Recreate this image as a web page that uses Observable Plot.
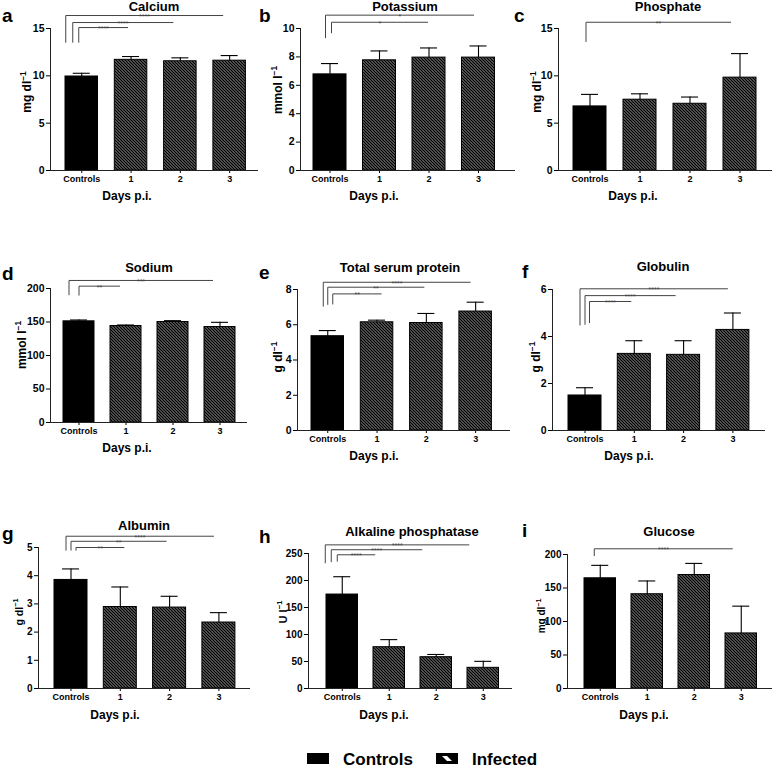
<!DOCTYPE html>
<html>
<head>
<meta charset="utf-8">
<script src="https://cdn.jsdelivr.net/npm/d3@7"></script>
<script src="https://cdn.jsdelivr.net/npm/@observablehq/plot@0.6"></script>
<style>
html,body{margin:0;padding:0;background:#fff;}
#fig{position:relative;width:773px;height:769px;overflow:hidden;font-family:"Liberation Sans",Arial,Helvetica,sans-serif;}
#fig svg.panel{position:absolute;}
#fig g[aria-label^="x-axis"] text{font-size:9px;font-weight:bold;fill:#000;}
#fig g[aria-label^="y-axis"] text{font-weight:bold;fill:#000;}
</style>
</head>
<body>
<svg width="0" height="0" style="position:absolute">
  <defs>
    <pattern id="hatch" patternUnits="userSpaceOnUse" width="3" height="3">
      <rect width="3" height="3" fill="#fff"/>
      <path d="M-1,-1L4,4M2,-1L4,1M-1,2L1,4" stroke="#000" stroke-width="1.6"/>
    </pattern>
  </defs>
</svg>
<div id="fig"></div>
<script>
// ---------- data ----------
const groups = ["Controls", "1", "2", "3"];
const legendLabels = ["Controls", "Infected"];
const xAxisTitle = "Days p.i.";

const calcium = [9.93, 11.69, 11.54, 11.6];
const calciumSD = [0.34, 0.35, 0.36, 0.54];
const calciumSig = [["3", "****", 16.37, 13.5], ["2", "****", 15.63, 13.5], ["1", "****", 15.1, 13.5]];
const calciumTicks = [0, 5, 10, 15];

const potassium = [6.77, 7.76, 7.95, 7.95];
const potassiumSD = [0.76, 0.66, 0.68, 0.82];
const potassiumSig = [["3", "*", 10.94, 9.32], ["2", "*", 10.44, 9.67]];
const potassiumTicks = [0, 2, 4, 6, 8, 10];

const phosphate = [6.77, 7.48, 7.05, 9.81];
const phosphateSD = [1.27, 0.62, 0.71, 2.54];
const phosphateSig = [["3", "**", 15.66, 13.58]];
const phosphateTicks = [0, 5, 10, 15];

const sodium = [151, 144, 150, 142.5];
const sodiumSD = [2, 1.5, 2, 7];
const sodiumSig = [["3", "***", 212, 190], ["1", "**", 203.5, 189.5]];
const sodiumTicks = [0, 50, 100, 150, 200];

const protein = [5.35, 6.14, 6.1, 6.75];
const proteinSD = [0.32, 0.12, 0.54, 0.53];
const proteinSig = [["3", "****", 8.41, 7.03], ["2", "**", 8.13, 7.13], ["1", "**", 7.75, 7.15]];
const proteinTicks = [0, 2, 4, 6, 8];

const globulin = [1.49, 3.26, 3.22, 4.28];
const globulinSD = [0.33, 0.56, 0.6, 0.72];
const globulinSig = [["3", "****", 6.03, 4.47], ["2", "****", 5.74, 4.5], ["1", "****", 5.49, 4.57]];
const globulinTicks = [0, 2, 4, 6];

const albumin = [3.85, 2.89, 2.87, 2.34];
const albuminSD = [0.39, 0.71, 0.4, 0.35];
const albuminSig = [["3", "****", 5.4, 4.89], ["2", "**", 5.22, 4.89], ["1", "**", 5.0, 4.89]];
const albuminTicks = [0, 1, 2, 3, 4, 5];

const alp = [174, 76.5, 58, 38.3];
const alpSD = [33, 14, 5, 12];
const alpSig = [["3", "****", 266, 232], ["2", "****", 257, 234], ["1", "****", 247.6, 235]];
const alpTicks = [0, 50, 100, 150, 200, 250];

const glucose = [164.5, 140.7, 169.4, 82.2];
const glucoseSD = [19.3, 19.8, 17.3, 40.7];
const glucoseSig = [["3", "****", 208.5, 197.6]];
const glucoseTicks = [0, 50, 100, 150, 200];

const panels = [
  {id: "a", title: "Calcium", unit: ["mg dl", "−1"], values: calcium, sd: calciumSD, sig: calciumSig, ticks: calciumTicks},
  {id: "b", title: "Potassium", unit: ["mmol l", "−1"], values: potassium, sd: potassiumSD, sig: potassiumSig, ticks: potassiumTicks},
  {id: "c", title: "Phosphate", unit: ["mg dl", "−1"], values: phosphate, sd: phosphateSD, sig: phosphateSig, ticks: phosphateTicks},
  {id: "d", title: "Sodium", unit: ["mmol l", "−1"], values: sodium, sd: sodiumSD, sig: sodiumSig, ticks: sodiumTicks},
  {id: "e", title: "Total serum protein", unit: ["g dl", "−1"], values: protein, sd: proteinSD, sig: proteinSig, ticks: proteinTicks},
  {id: "f", title: "Globulin", unit: ["g dl", "−1"], values: globulin, sd: globulinSD, sig: globulinSig, ticks: globulinTicks},
  {id: "g", title: "Albumin", unit: ["g dl", "−1"], values: albumin, sd: albuminSD, sig: albuminSig, ticks: albuminTicks},
  {id: "h", title: "Alkaline phosphatase", unit: ["U l", "−1"], values: alp, sd: alpSD, sig: alpSig, ticks: alpTicks},
  {id: "i", title: "Glucose", unit: ["mg dl", "−1"], values: glucose, sd: glucoseSD, sig: glucoseSig, ticks: glucoseTicks}
];

// ---------- layout (pixels, styling only) ----------
const geom = {
  a: {ax:50, end:258, top:28, zero:170, off:15, step:49.3, bw:32.5, bl:[-16,-9,-3], br:[-6.5,-7,-3], fs:10.5, lx:2, ly:22, tx:154, ty:11, ux:27, uy:92, us:12, dxl:127, dyl:200},
  b: {ax:300, end:515, top:28, zero:170, off:13, step:49.5, bw:33, bl:[-4.5,1.5], br:[-4.5,-1], fs:10.5, lx:259, ly:22, tx:405, ty:11, ux:278, uy:90, us:12, dxl:374, dyl:200},
  c: {ax:558, end:772, top:28, zero:170, off:15, step:50, bw:33, bl:[-4], br:[-9], fs:10.5, lx:514, ly:22, tx:668, ty:11, ux:537, uy:92, us:12, dxl:633, dyl:200},
  d: {ax:50, end:247, top:288, zero:422, off:13, step:47, bw:31, bl:[-10,0], br:[-7,-6], fs:10.5, lx:2, ly:280, tx:149, ty:272, ux:22, uy:345, us:12, dxl:127, dyl:452},
  e: {ax:297, end:510, top:289, zero:430, off:14, step:49.3, bw:32.5, bl:[-4.5,0,5], br:[-5,-2,4.5], fs:10.5, lx:259, ly:279, tx:400, ty:272, ux:278, uy:357, us:12, dxl:374, dyl:460},
  f: {ax:552, end:765, top:289, zero:430, off:16, step:49.3, bw:33, bl:[-5,0,4.5], br:[-5,-8,-3], fs:10.5, lx:522, ly:278, tx:663, ty:271, ux:536, uy:357, us:12, dxl:629, dyl:460},
  g: {ax:38, end:250, top:547, zero:688, off:16, step:49.3, bw:33, bl:[-5,0,5], br:[-5,-3,4], fs:10, lx:2, ly:540, tx:144, ty:530, ux:19, uy:612, us:10.5, dxl:115, dyl:719},
  h: {ax:308, end:512, top:553, zero:688, off:18, step:47, bw:31.5, bl:[-17,-11,-5], br:[-14,-14,-14], fs:10, lx:259, ly:543, tx:412, ty:536, ux:283, uy:612, us:11, dxl:384, dyl:719},
  i: {ax:567, end:772, top:554, zero:688, off:17, step:47, bw:31.5, bl:[-6], br:[-8.5], fs:10, lx:522, ly:537, tx:669, ty:536, ux:541, uy:616, us:10, dxl:644, dyl:719}
};

const FONT = '"Liberation Sans", Arial, Helvetica, sans-serif';
const fig = document.getElementById("fig");

panels.forEach(p => {
  const g = geom[p.id];
  const ML = 46, MR = 6, MT = 26, MB = 24;
  const plotW = g.end - g.ax, plotH = g.zero - g.top;
  const c0 = g.off + g.bw / 2;
  const xd = [-c0 / g.step, (plotW - c0) / g.step];
  const hw = g.bw / 2 / g.step, cw = 8.5 / g.step;
  const yMax = p.ticks[p.ticks.length - 1];
  const rows = groups.map((k, i) => ({i, k, mean: p.values[i], top: p.values[i] + p.sd[i]}));
  const sig = p.sig.map(([to, stars, y, y0], j) => {
    const xl = g.bl[j] / g.step, xr = groups.indexOf(to) + g.br[j] / g.step;
    return {xl, xr, xm: (xl + xr) / 2, y, y0, stars};
  });
  const svg = Plot.plot({
    width: ML + plotW + MR, height: MT + plotH + MB,
    marginLeft: ML, marginRight: MR, marginTop: MT, marginBottom: MB,
    style: {background: "transparent", overflow: "visible", fontFamily: FONT, fontSize: g.fs + "px", color: "#000"},
    x: {domain: xd, ticks: [0, 1, 2, 3], tickFormat: i => groups[i], tickSize: 3, tickPadding: 2, label: null},
    y: {domain: [0, yMax], ticks: p.ticks, tickFormat: d => String(d), tickSize: 4, tickPadding: 2, label: null},
    marks: [
      Plot.rect(rows.filter(d => d.i === 0), {x1: d => d.i - hw, x2: d => d.i + hw, y1: 0, y2: "mean", fill: "#000", stroke: "#000"}),
      Plot.rect(rows.filter(d => d.i > 0), {x1: d => d.i - hw, x2: d => d.i + hw, y1: 0, y2: "mean", fill: "url(#hatch)", stroke: "#000", strokeWidth: 1}),
      Plot.ruleX(rows, {x: "i", y1: "mean", y2: "top", stroke: "#000", strokeWidth: 1.1}),
      Plot.ruleY(rows, {x1: d => d.i - cw, x2: d => d.i + cw, y: "top", stroke: "#000", strokeWidth: 1.1}),
      Plot.ruleY([0], {stroke: "#222"}),
      Plot.ruleX([xd[0]], {y1: 0, y2: yMax, stroke: "#222"}),
      Plot.link(sig, {x1: "xl", x2: "xr", y1: "y", y2: "y", stroke: "#444", strokeWidth: 1}),
      Plot.link(sig, {x1: "xl", x2: "xl", y1: "y", y2: "y0", stroke: "#444", strokeWidth: 1}),
      Plot.text(sig, {x: "xm", y: "y", text: "stars", fontSize: 7, fill: "#444", lineAnchor: "bottom", dy: 3.5})
    ]
  });
  svg.classList.add("panel");
  svg.style.left = (g.ax - ML) + "px";
  svg.style.top = (g.top - MT) + "px";
  fig.appendChild(svg);
});

// ---------- text overlay ----------
const ov = d3.select(fig).append("svg")
  .attr("width", 773).attr("height", 769)
  .style("position", "absolute").style("left", "0px").style("top", "0px")
  .style("pointer-events", "none")
  .style("font-family", FONT);

panels.forEach(p => {
  const g = geom[p.id];
  ov.append("text").attr("x", g.lx).attr("y", g.ly).attr("font-size", 19).attr("font-weight", "bold").text(p.id);
  ov.append("text").attr("x", g.tx).attr("y", g.ty).attr("text-anchor", "middle").attr("font-size", 13).attr("font-weight", "bold").text(p.title);
  const u = ov.append("text").attr("transform", `translate(${g.ux},${g.uy}) rotate(-90)`)
    .attr("text-anchor", "middle").attr("dy", "0.35em").attr("font-size", g.us).attr("font-weight", "bold");
  u.append("tspan").text(p.unit[0]);
  u.append("tspan").attr("dy", -g.us * 0.4).attr("font-size", g.us * 0.7).text(p.unit[1]);
  ov.append("text").attr("x", g.dxl).attr("y", g.dyl).attr("text-anchor", "middle").attr("font-size", 12).attr("font-weight", "bold").text(xAxisTitle);
});

// legend
const lg = ov.append("g");
lg.append("rect").attr("x", 307).attr("y", 753).attr("width", 22).attr("height", 11).attr("fill", "#000");
lg.append("text").attr("x", 343).attr("y", 765).attr("font-size", 17).attr("font-weight", "bold").text(legendLabels[0]);
lg.append("rect").attr("x", 436).attr("y", 753).attr("width", 22).attr("height", 11).attr("fill", "#000");
lg.append("path").attr("d", "M442,756 L447,756 L452,761 L447,761 Z").attr("fill", "#fff");
lg.append("text").attr("x", 472).attr("y", 765).attr("font-size", 17).attr("font-weight", "bold").text(legendLabels[1]);
</script>
</body>
</html>
